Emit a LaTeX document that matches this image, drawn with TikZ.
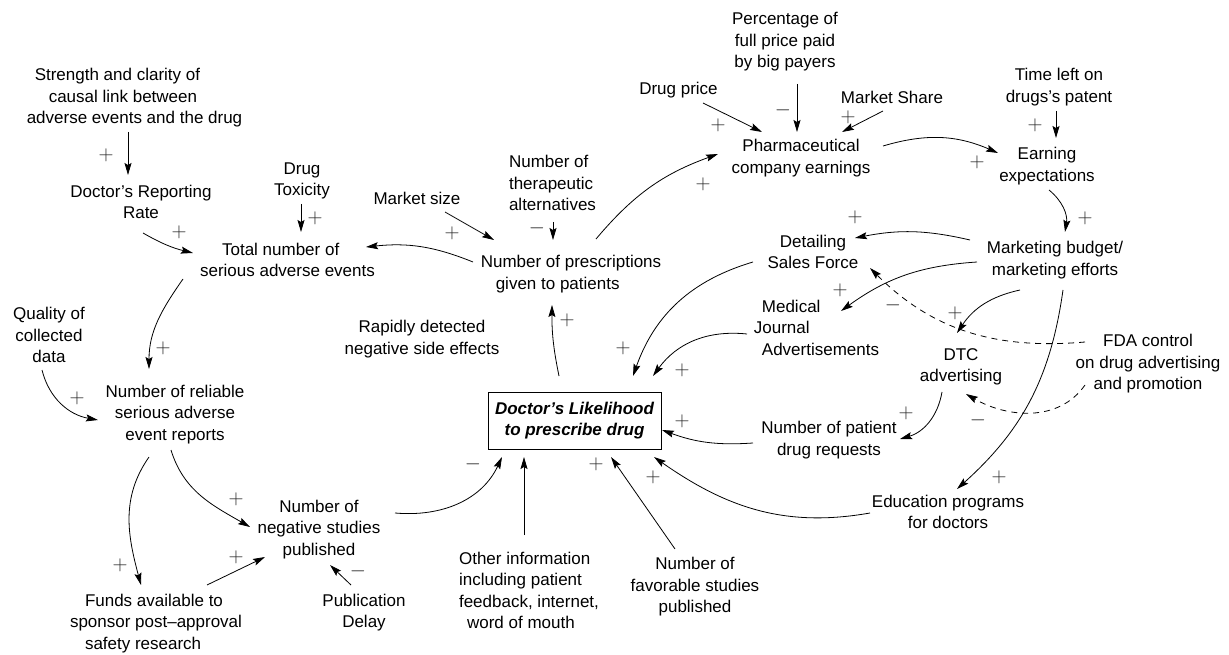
\documentclass[tikz,border=0pt]{standalone}
\usepackage{fontspec}
\setmainfont{Liberation Sans}
\usetikzlibrary{arrows.meta}
\tikzset{
 lbl/.style={font=\fontsize{17}{21.5}\selectfont, align=center, inner sep=1pt},
 lbll/.style={lbl, align=left},
 arr/.style={-{Stealth[length=12pt,width=7pt,inset=2pt]}, line width=0.8pt},
 darr/.style={arr, dash pattern=on 6pt off 5pt},
 sgn/.style={font=\fontsize{22}{22}\selectfont, inner sep=0pt, text=black!85},
 mainbox/.style={draw, line width=0.8pt, minimum width=173pt, minimum height=57pt, inner sep=0pt,
   font=\fontsize{17}{21.5}\selectfont\bfseries\itshape, align=center},
}
\begin{document}
\begin{tikzpicture}[x=1pt,y=1pt]
\fill[white] (0,0) rectangle (1229,-655);
\useasboundingbox (0,0) rectangle (1229,-655);

% ---- nodes ----
\node[lbll] (str) at (134.5,-98) {\hspace*{8pt}Strength and clarity of\\\hspace*{22pt}causal link between\\adverse events and the drug};
\node[lbl] (rep) at (141,-202) {Doctor’s Reporting\\Rate};
\node[lbl] (tox) at (302,-181) {Drug\\Toxicity};
\node[lbll] (tot) at (287.5,-260) {\hspace*{22pt}Total number of\\serious adverse events};
\node[lbl] (msize) at (417,-198) {Market size};
\node[lbll, inner sep=0pt] (alt) at (552.5,-183) {Number of\\therapeutic\\alternatives};
\node[lbll] (rx) at (571,-274) {Number of prescriptions\\\hspace*{15pt}given to patients};
\node[lbl] (dprice) at (678.5,-90) {Drug price};
\node[lbl] (pct) at (785,-42) {Percentage of\\full price paid\\by big payers};
\node[lbl] (mshare) at (892,-97) {Market Share};
\node[lbl] (pharma) at (801,-158) {Pharmaceutical\\company earnings};
\node[lbl] (tl) at (1059,-87) {Time left on\\drugs’s patent};
\node[lbl] (earn) at (1047,-166) {Earning\\expectations};
\node[lbl] (mkt) at (1055,-260) {Marketing budget/\\marketing efforts};
\node[lbl] (det) at (813,-252) {Detailing\\Sales Force};
\node[lbll] (jour) at (820.5,-327.5) {Medical\\\hspace*{-8pt}Journal\\Advertisements};
\node[lbl] (dtc) at (961,-367) {DTC\\advertising};
\node[lbl] (fda) at (1148,-364) {FDA control\\on drug advertising\\and promotion};
\node[lbl] (req) at (829,-440) {Number of patient\\drug requests};
\node[lbl] (edu) at (948,-512) {Education programs\\for doctors};
\node[mainbox] (doc) at (574.5,-420.5) {Doctor’s Likelihood\\to prescribe drug};
\node[lbl] (rapid) at (422,-339) {Rapidly detected\\negative side effects};
\node[lbl] (fav) at (695,-587) {Number of\\favorable studies\\published};
\node[lbll] (oth) at (529,-590.5) {Other information\\including patient\\feedback, internet,\\\hspace*{8pt}word of mouth};
\node[lbl] (neg) at (319,-529.5) {Number of\\negative studies\\published};
\node[lbl] (pub) at (364,-612.5) {Publication\\Delay};
\node[lbll] (funds) at (163.5,-623.5) {Funds available to\\\hspace*{-15pt}sponsor post–approval\\safety research};
\node[lbl] (qual) at (49,-335) {Quality of\\collected\\data};
\node[lbl] (rel) at (175,-414.5) {Number of reliable\\serious adverse\\event reports};

% ---- connectors ----
\draw[arr] ([shift={(-6.5,-34)}]str.center) -- ([shift={(-13,27)}]rep.center);
\draw[arr] ([shift={(-1,-23)}]tox.center) -- ([shift={(13.5,28)}]tot.center);
\draw[arr] ([shift={(2,-31)}]rep.center) to[bend right=8] ([shift={(-94.5,7)}]tot.center);
\draw[arr] ([shift={(28,-14)}]msize.center) -- ([shift={(-77,34)}]rx.center);
\draw[arr] ([shift={(0.5,-39)}]alt.center) -- ([shift={(-18,34)}]rx.center);
\draw[arr] ([shift={(-98,12)}]rx.center) to[bend right=14] ([shift={(78.5,13)}]tot.center);
\draw[arr] ([shift={(25,35)}]rx.center) to[bend left=15] ([shift={(-83,4)}]pharma.center);
\draw[arr] ([shift={(24.5,-13)}]dprice.center) -- ([shift={(-39,26)}]pharma.center);
\draw[arr] ([shift={(12,-42)}]pct.center) -- ([shift={(-4,26)}]pharma.center);
\draw[arr] ([shift={(-9,-14)}]mshare.center) -- ([shift={(41,26)}]pharma.center);
\draw[arr] ([shift={(82,12)}]pharma.center) to[bend left=20] ([shift={(-49,13)}]earn.center);
\draw[arr] ([shift={(-3,-24)}]tl.center) -- ([shift={(9,28)}]earn.center);
\draw[arr] ([shift={(2,-24)}]earn.center) to[bend left=30] ([shift={(10,28)}]mkt.center);
\draw[arr] ([shift={(-85,20)}]mkt.center) to[bend right=12] ([shift={(42,14)}]det.center);
\draw[arr] ([shift={(-78,-2)}]mkt.center) to[bend right=16] ([shift={(20.5,16.5)}]jour.center);
\draw[arr] ([shift={(-35,-30)}]mkt.center) to[bend right=22] ([shift={(-4,34)}]dtc.center);
\draw[arr] ([shift={(8,-30)}]mkt.center) to[bend left=20] ([shift={(9,23)}]edu.center);
\draw[darr] ([shift={(-63,22)}]fda.center) to[out=185,in=-45] ([shift={(57,-16)}]det.center);
\draw[darr] ([shift={(-63,-21)}]fda.center) to[out=-125,in=-30] ([shift={(5,-27)}]dtc.center);
\draw[arr] ([shift={(-19,-25)}]dtc.center) to[bend left=32] ([shift={(71,1)}]req.center);
\draw[arr] ([shift={(-76,-3)}]req.center) to[bend left=12] ([shift={(87.5,-9.5)}]doc.center);
\draw[arr] ([shift={(-60,-10)}]det.center) to[bend right=27] ([shift={(58.5,44.5)}]doc.center);
\draw[arr] ([shift={(-73.5,-6.5)}]jour.center) to[bend right=30] ([shift={(78.5,44.5)}]doc.center);
\draw[arr] ([shift={(-15.5,44.5)}]doc.center) to[bend left=6] ([shift={(-19,-31)}]rx.center);
\draw[arr] ([shift={(-78,-1)}]edu.center) to[out=190,in=-35] ([shift={(79.5,-36.5)}]doc.center);
\draw[arr] ([shift={(-20,38)}]fav.center) -- ([shift={(36.5,-36.5)}]doc.center);
\draw[arr] ([shift={(-5,55.5)}]oth.center) -- ([shift={(-50.5,-36.5)}]doc.center);
\draw[arr] ([shift={(76,16.5)}]neg.center) to[out=-5,in=-115] ([shift={(-72.5,-36.5)}]doc.center);
\draw[arr] ([shift={(-104.5,-19)}]tot.center) to[out=-125,in=90] ([shift={(-26,45.5)}]rel.center);
\draw[arr] ([shift={(-7,-35)}]qual.center) to[out=-76,in=170] ([shift={(-77,-5.5)}]rel.center);
\draw[arr] ([shift={(-26,-42.5)}]rel.center) to[out=-125,in=105] ([shift={(-22.5,38.5)}]funds.center);
\draw[arr] ([shift={(-4,-35.5)}]rel.center) to[out=-73,in=150] ([shift={(-69,2.5)}]neg.center);
\draw[arr] ([shift={(43.5,38.5)}]funds.center) -- ([shift={(-54,-27.5)}]neg.center);
\draw[arr] ([shift={(-13,27.5)}]pub.center) -- ([shift={(11,-35.5)}]neg.center);

% ---- polarity signs ----
\node[sgn] (s1) at (106,-155) {$+$};
\node[sgn] (s2) at (315,-218) {$+$};
\node[sgn] (s3) at (179,-232) {$+$};
\node[sgn] (s4) at (452,-233) {$+$};
\node[sgn] (s5) at (537,-228) {$-$};
\node[sgn] (s6) at (703,-184) {$+$};
\node[sgn] (s7) at (718,-125) {$+$};
\node[sgn] (s8) at (783,-110) {$-$};
\node[sgn] (s9) at (848,-117) {$+$};
\node[sgn] (s10) at (977,-162) {$+$};
\node[sgn] (s11) at (1035,-125) {$+$};
\node[sgn] (s12) at (1085,-218) {$+$};
\node[sgn] (s13) at (855,-217) {$+$};
\node[sgn] (s14) at (840,-290) {$+$};
\node[sgn] (s15) at (955,-313) {$+$};
\node[sgn] (s16) at (893,-305) {$-$};
\node[sgn] (s17) at (978,-420) {$-$};
\node[sgn] (s18) at (999,-477) {$+$};
\node[sgn] (s19) at (906,-413) {$+$};
\node[sgn] (s20) at (682,-421) {$+$};
\node[sgn] (s21) at (623,-348) {$+$};
\node[sgn] (s22) at (682,-370) {$+$};
\node[sgn] (s23) at (567,-320) {$+$};
\node[sgn] (s24) at (653,-477) {$+$};
\node[sgn] (s25) at (596,-464) {$+$};
\node[sgn] (s26) at (473,-464) {$-$};
\node[sgn] (s27) at (163,-348) {$+$};
\node[sgn] (s28) at (77,-398) {$+$};
\node[sgn] (s29) at (120,-565) {$+$};
\node[sgn] (s30) at (236,-499) {$+$};
\node[sgn] (s31) at (236,-557) {$+$};
\node[sgn] (s32) at (358,-571) {$-$};
\end{tikzpicture}
\end{document}
